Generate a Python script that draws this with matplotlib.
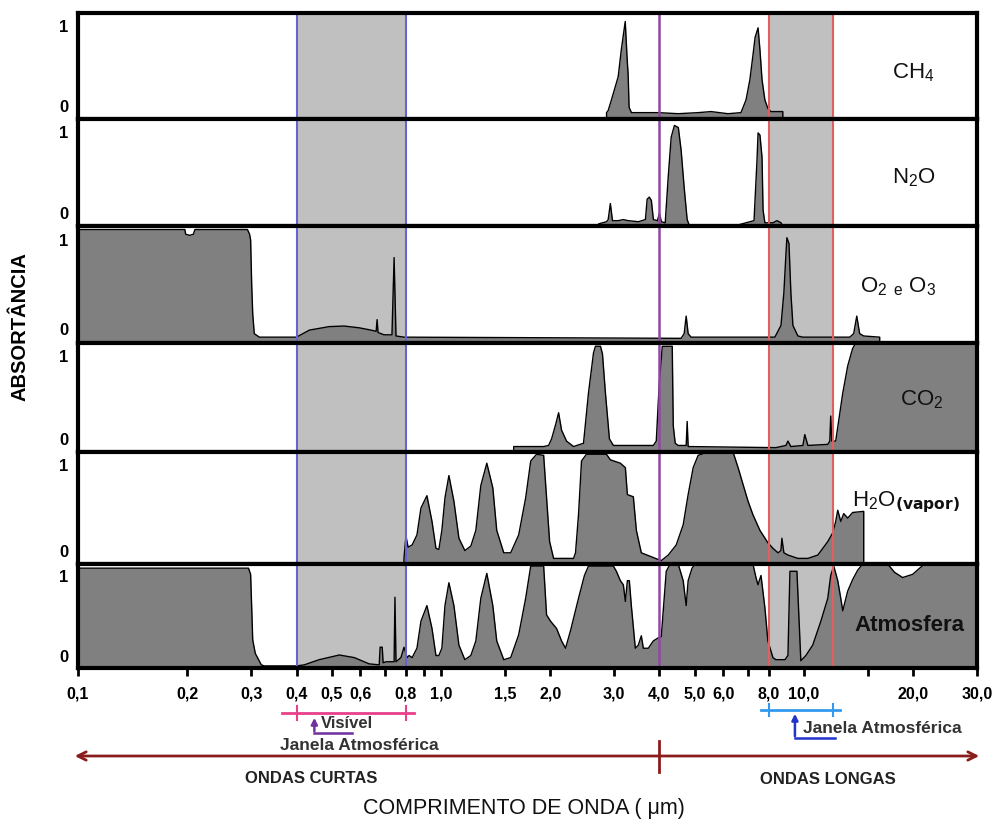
import matplotlib
matplotlib.use('Agg')
import matplotlib.pyplot as plt
import matplotlib.transforms as mtransforms
from matplotlib.ticker import FixedLocator, NullFormatter

plt.rcParams['font.family'] = ['Liberation Sans', 'DejaVu Sans']
plt.rcParams['mathtext.default'] = 'regular'

# wavelengths in micrometres, absorbance 0..1
ch4_wl = [2.86, 2.86, 2.89, 2.95, 3.08, 3.14, 3.22, 3.26, 3.28, 3.30, 3.35, 3.97, 4.51, 5.11, 5.55,
          6.18, 6.71, 6.93, 7.10, 7.24, 7.34, 7.48, 7.57, 7.67, 7.81, 7.96, 8.11, 8.75, 8.75]
ch4_ab = [0.0, 0.06, 0.08, 0.18, 0.40, 0.65, 0.92, 0.56, 0.42, 0.11, 0.06, 0.06, 0.05, 0.06, 0.07,
          0.05, 0.06, 0.18, 0.37, 0.60, 0.77, 0.86, 0.65, 0.37, 0.18, 0.10, 0.07, 0.07, 0.0]

n2o_wl = [2.72, 2.72, 2.86, 2.89, 2.93, 2.97, 3.08, 3.18, 3.28, 3.50, 3.66, 3.70, 3.75, 3.80, 3.85,
          3.95, 4.00, 4.05, 4.15, 4.23, 4.31, 4.40, 4.51, 4.59, 4.68, 4.77, 4.83, 6.59, 7.29, 7.43,
          7.48, 7.57, 7.67, 7.72, 7.81, 8.22, 8.43, 8.65, 8.75]
n2o_ab = [0.0, 0.02, 0.04, 0.06, 0.21, 0.05, 0.05, 0.06, 0.05, 0.04, 0.06, 0.25, 0.27, 0.24, 0.06,
          0.05, 0.12, 0.04, 0.03, 0.46, 0.83, 0.94, 0.92, 0.71, 0.36, 0.06, 0.01, 0.01, 0.05, 0.62,
          0.87, 0.85, 0.64, 0.15, 0.03, 0.03, 0.05, 0.03, 0.0]

o2o3_wl = [0.1, 0.197, 0.198, 0.203, 0.208, 0.210, 0.293, 0.297, 0.299, 0.301, 0.303, 0.306, 0.316,
           0.40, 0.434, 0.492, 0.541, 0.595, 0.642, 0.663, 0.667, 0.671, 0.697, 0.733, 0.743, 0.752,
           0.791, 4.59, 4.68, 4.74, 4.80, 4.89, 8.32, 8.65, 8.81, 8.93, 8.98, 9.10, 9.21, 9.33, 9.63,
           9.94, 13.38, 13.72, 13.99, 14.25, 14.62, 16.18, 16.18]
o2o3_ab = [0.97, 0.97, 0.93, 0.92, 0.93, 0.97, 0.97, 0.93, 0.88, 0.50, 0.25, 0.08, 0.05,
           0.05, 0.11, 0.14, 0.145, 0.13, 0.11, 0.10, 0.20, 0.09, 0.07, 0.07, 0.73, 0.06,
           0.05, 0.04, 0.08, 0.23, 0.08, 0.05, 0.05, 0.15, 0.43, 0.77, 0.90, 0.85, 0.43, 0.15, 0.06,
           0.05, 0.05, 0.08, 0.23, 0.08, 0.06, 0.05, 0.0]

co2_wl = [1.587, 1.587, 1.919, 1.98, 2.018, 2.07, 2.11, 2.15, 2.219, 2.32, 2.471, 2.55, 2.633, 2.666,
          2.752, 2.787, 2.84, 2.913, 2.987, 3.848, 3.921, 3.996, 4.073, 4.339, 4.367, 4.422, 4.506,
          4.74, 4.77, 4.80, 8.375, 8.925, 9.04, 9.21, 9.94, 10.06, 10.26, 11.64, 11.79, 11.86, 11.94,
          12.24, 12.8, 13.21, 13.63, 13.9, 30.0]
co2_ab = [0.0, 0.05, 0.05, 0.06, 0.12, 0.25, 0.36, 0.20, 0.10, 0.05, 0.08, 0.54, 0.91, 0.97,
          0.97, 0.90, 0.54, 0.12, 0.06, 0.06, 0.10, 0.63, 0.97, 0.97, 0.24, 0.08, 0.06,
          0.06, 0.28, 0.05, 0.04, 0.06, 0.10, 0.05, 0.06, 0.16, 0.06, 0.07, 0.10, 0.33, 0.10,
          0.10, 0.54, 0.79, 0.95, 1.0, 1.0]

h2o_wl = [0.791, 0.791, 0.801, 0.812, 0.833, 0.859, 0.881, 0.915, 0.945, 0.969, 0.987, 1.006, 1.026,
          1.052, 1.086, 1.121, 1.164, 1.209, 1.248, 1.288, 1.338, 1.39, 1.425, 1.49, 1.557, 1.638,
          1.712, 1.768, 1.835, 1.919, 1.955, 1.993, 2.044, 2.32, 2.349, 2.394, 2.44, 2.518, 2.858,
          2.931, 3.122, 3.223, 3.264, 3.39, 3.456, 3.566, 3.971, 4.047, 4.231, 4.45, 4.651, 4.80,
          4.955, 5.114, 5.45, 6.38, 6.59, 6.80, 7.02, 7.24, 7.57, 7.96, 8.22, 8.49, 8.645, 8.70,
          8.81, 9.04, 9.63, 10.26, 10.93, 11.64, 12.02, 12.24, 12.40, 12.64, 12.88, 13.21, 13.63,
          14.62, 14.62]
h2o_ab = [0.0, 0.05, 0.25, 0.15, 0.17, 0.26, 0.50, 0.61, 0.38, 0.14, 0.13, 0.30, 0.59,
          0.79, 0.56, 0.23, 0.12, 0.16, 0.30, 0.70, 0.90, 0.68, 0.30, 0.10, 0.10, 0.26,
          0.59, 0.92, 0.98, 0.97, 0.59, 0.20, 0.05, 0.05, 0.10, 0.44, 0.92, 0.98, 0.98,
          0.93, 0.90, 0.86, 0.62, 0.60, 0.30, 0.10, 0.04, 0.03, 0.08, 0.17, 0.35, 0.62,
          0.86, 0.97, 1.0, 1.0, 0.86, 0.71, 0.56, 0.44, 0.30, 0.19, 0.14, 0.10, 0.12, 0.23,
          0.10, 0.08, 0.05, 0.05, 0.08, 0.20, 0.28, 0.38, 0.48, 0.38, 0.45, 0.41, 0.46,
          0.47, 0.0]

atm_wl = [0.1, 0.295, 0.299, 0.303, 0.308, 0.320, 0.326, 0.40, 0.42, 0.462, 0.525, 0.577, 0.634,
          0.676, 0.680, 0.689, 0.693, 0.706, 0.743, 0.747, 0.752, 0.776, 0.791, 0.807, 0.817, 0.833,
          0.859, 0.881, 0.915, 0.945, 0.969, 0.987, 1.006, 1.026, 1.052, 1.086, 1.121, 1.164, 1.209,
          1.248, 1.288, 1.338, 1.39, 1.425, 1.49, 1.557, 1.638, 1.712, 1.768, 1.919, 1.955, 2.005,
          2.083, 2.15, 2.205, 2.276, 2.394, 2.486, 2.55, 2.987, 3.044, 3.122, 3.182, 3.223, 3.264,
          3.305, 3.347, 3.433, 3.499, 3.566, 3.612, 3.728, 3.848, 3.971, 4.047, 4.177, 4.285, 4.506,
          4.651, 4.74, 4.80, 4.92, 5.018, 7.24, 7.38, 7.475, 7.62, 7.81, 7.96, 8.22, 8.375, 8.87,
          9.04, 9.155, 9.57, 9.69, 9.81, 10.13, 10.58, 11.14, 11.64, 11.86, 12.09, 12.4, 12.64, 12.8,
          13.21, 13.63, 14.07, 14.53, 17.02, 17.78, 18.71, 19.93, 21.5, 30.0]
atm_ab = [0.96, 0.96, 0.90, 0.27, 0.14, 0.03, 0.02, 0.02, 0.03, 0.08, 0.125, 0.10, 0.04,
          0.03, 0.20, 0.20, 0.05, 0.06, 0.06, 0.68, 0.06, 0.10, 0.20, 0.10, 0.12, 0.10,
          0.19, 0.45, 0.60, 0.38, 0.12, 0.12, 0.19, 0.60, 0.82, 0.60, 0.22, 0.08, 0.12,
          0.26, 0.67, 0.91, 0.60, 0.26, 0.08, 0.10, 0.32, 0.67, 0.98, 0.98, 0.51, 0.45,
          0.38, 0.26, 0.19, 0.36, 0.67, 0.89, 0.98, 0.98, 0.93, 0.84, 0.80, 0.64, 0.84,
          0.84, 0.60, 0.19, 0.22, 0.31, 0.19, 0.19, 0.26, 0.29, 0.30, 0.93, 1.0, 1.0,
          0.84, 0.60, 0.84, 0.96, 1.0, 1.0, 0.87, 0.80, 0.89, 0.58, 0.26, 0.10, 0.08, 0.08,
          0.12, 0.93, 0.93, 0.50, 0.07, 0.12, 0.22, 0.45, 0.67, 0.89, 0.98, 0.84, 0.67, 0.55,
          0.74, 0.85, 0.94, 1.0, 1.0, 0.92, 0.87, 0.90, 1.0, 1.0]

tick_vals = [0.1, 0.2, 0.3, 0.4, 0.5, 0.6, 0.8, 1.0, 1.5, 2.0, 3.0, 4.0, 5.0, 6.0, 8.0, 10.0, 20.0, 30.0]
tick_labels = ['0,1', '0,2', '0,3', '0,4', '0,5', '0,6', '0,8', '1,0', '1,5', '2,0', '3,0', '4,0',
               '5,0', '6,0', '8,0', '10,0', '20,0', '30,0']
minor_vals = [0.7, 0.9, 7.0, 15.0]

visible_band = (0.4, 0.8)
ir_window = (8.0, 12.0)
split_wl = 4.0

panels = [
    (ch4_wl, ch4_ab, r'CH$_4$', 0.906, 0.44, 'normal'),
    (n2o_wl, n2o_ab, r'N$_2$O', 0.906, 0.45, 'normal'),
    (o2o3_wl, o2o3_ab, r'O$_2$ $_e$ O$_3$', 0.870, 0.48, 'normal'),
    (co2_wl, co2_ab, r'CO$_2$', 0.914, 0.48, 'normal'),
    (h2o_wl, h2o_ab, r'H$_2$O$_{\mathbf{(vapor)}}$', 0.861, 0.55, 'normal'),
    (atm_wl, atm_ab, 'Atmosfera', 0.864, 0.41, 'bold'),
]

W, H = 996, 821
fig = plt.figure(figsize=(W / 100, H / 100), dpi=100)
gs = fig.add_gridspec(6, 1, left=78 / W, right=977 / W, top=1 - 13 / H, bottom=1 - 668 / H,
                      hspace=0, height_ratios=[106, 107, 117, 109, 112, 104])

axes = []
for i, (wl, ab, label, lx, ly, fw) in enumerate(panels):
    ax = fig.add_subplot(gs[i])
    axes.append(ax)
    ax.set_xscale('log')
    ax.set_xlim(0.1, 30)
    ax.set_ylim(0, 1)
    ax.axvspan(*visible_band, color='#c0c0c0', lw=0, zorder=0)
    ax.axvspan(*ir_window, color='#c0c0c0', lw=0, zorder=0)
    ax.fill_between(wl, ab, 0, color='#808080', lw=0, zorder=2)
    ax.plot(wl, ab, color='black', lw=1.0, zorder=3)
    for v in visible_band:
        ax.axvline(v, color='#6464d2', lw=1.5, zorder=4)
    for v in ir_window:
        ax.axvline(v, color='#e06060', lw=1.5, zorder=4)
    ax.axvline(split_wl, color='#8e4a9e', lw=1.8, zorder=4)
    for s in ax.spines.values():
        s.set_linewidth(3)
        s.set_zorder(5)
    ax.set_yticks([0.12, 0.88])
    ax.set_yticklabels(['0', '1'], fontsize=12, fontweight='bold')
    ax.tick_params(axis='y', length=0, pad=7)
    ax.xaxis.set_major_locator(FixedLocator(tick_vals))
    ax.xaxis.set_minor_locator(FixedLocator(minor_vals))
    ax.xaxis.set_minor_formatter(NullFormatter())
    ax.text(lx, ly, label, transform=ax.transAxes, fontsize=16, fontweight=fw,
            ha='left', va='center', color='#111111', zorder=6)
    if i < 5:
        ax.tick_params(axis='x', which='both', bottom=False, labelbottom=False)

bot = axes[-1]
bot.set_xticklabels(tick_labels, fontsize=11.5, fontweight='bold')
bot.tick_params(axis='x', which='both', direction='out', length=6, width=2, pad=7)

fig.text(20 / W, 1 - 327 / H, 'ABSORTÂNCIA', rotation=90, ha='center', va='center',
         fontsize=14.5, fontweight='bold')

# annotations below the axis: x in data units, y in figure pixels
tr = mtransforms.blended_transform_factory(bot.transData, fig.transFigure)


def fy(py):
    return 1 - py / H


pink = '#e8408a'
bot.plot([0.366, 0.843], [fy(713), fy(713)], color=pink, lw=2, transform=tr, clip_on=False)
for v in visible_band:
    bot.plot([v, v], [fy(706), fy(720)], color=pink, lw=1.5, transform=tr, clip_on=False)
purple = '#7030a0'
bot.plot([0.448, 0.57], [fy(733), fy(733)], color=purple, lw=1.8, transform=tr, clip_on=False)
bot.annotate('', xy=(0.448, fy(715)), xytext=(0.448, fy(734)), xycoords=tr, textcoords=tr,
             arrowprops=dict(arrowstyle='-|>', color=purple, lw=1.8, mutation_scale=9))
bot.text(0.466, fy(724), 'Visível', transform=tr, fontsize=12, fontweight='bold',
         color='#333333', ha='left', va='center')
bot.text(0.595, fy(745), 'Janela Atmosférica', transform=tr, fontsize=12.5, fontweight='bold',
         color='#333333', ha='center', va='center')

blue = '#3399ee'
bot.plot([7.62, 12.56], [fy(710), fy(710)], color=blue, lw=2, transform=tr, clip_on=False)
for v in ir_window:
    bot.plot([v, v], [fy(704), fy(716)], color=blue, lw=1.5, transform=tr, clip_on=False)
dblue = '#2233cc'
bot.plot([9.45, 12.17], [fy(738), fy(738)], color=dblue, lw=1.8, transform=tr, clip_on=False)
bot.annotate('', xy=(9.45, fy(711)), xytext=(9.45, fy(739)), xycoords=tr, textcoords=tr,
             arrowprops=dict(arrowstyle='-|>', color=dblue, lw=1.8, mutation_scale=9))
bot.text(9.94, fy(728), 'Janela Atmosférica', transform=tr, fontsize=12.5, fontweight='bold',
         color='#333333', ha='left', va='center')

dred = '#8b1c1c'
fig.add_artist(matplotlib.patches.FancyArrowPatch(
    (72 / W, fy(756)), (982 / W, fy(756)), transform=fig.transFigure,
    arrowstyle='<->,head_length=6,head_width=3', color=dred, lw=2))
bot.plot([split_wl, split_wl], [fy(741), fy(772)], color=dred, lw=2, transform=tr, clip_on=False)

fig.text(311 / W, fy(778), 'ONDAS CURTAS', ha='center', va='center', fontsize=12,
         fontweight='bold', color='#222222')
fig.text(828 / W, fy(779), 'ONDAS LONGAS', ha='center', va='center', fontsize=12,
         fontweight='bold', color='#222222')
fig.text(524 / W, fy(808), 'COMPRIMENTO DE ONDA ( μm)', ha='center', va='center',
         fontsize=15.5, color='#111111')

fig.savefig('out.png', dpi=100)
